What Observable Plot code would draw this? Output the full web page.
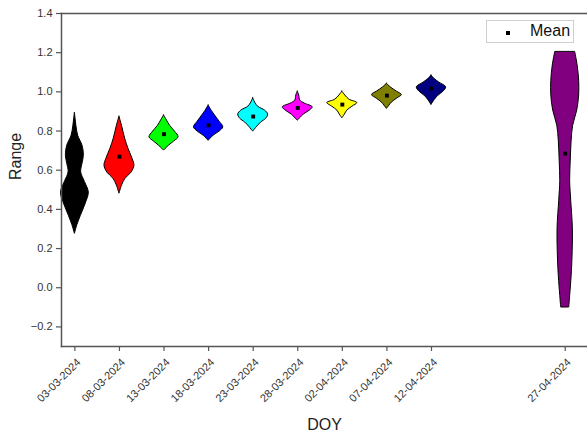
<!DOCTYPE html>
<html><head><meta charset="utf-8">
<script src="https://cdn.jsdelivr.net/npm/d3@7"></script>
<script src="https://cdn.jsdelivr.net/npm/@observablehq/plot@0.6"></script>
<style>
body{margin:0;background:#fff;}
#wrap{position:relative;width:587px;height:434px;font-family:"Liberation Sans",Arial,sans-serif;}
#legend{position:absolute;left:486px;top:20px;width:88px;height:23px;border:1px solid #cfcfcf;background:#fff;box-sizing:border-box;}
#legend .sq{position:absolute;left:19px;top:10px;width:4px;height:4px;background:#000;}
#legend .lb{position:absolute;left:43px;top:2px;font-size:16px;line-height:16px;color:#111;}
</style></head>
<body><div id="wrap"></div>
<script>
const dates = ["03-03-2024","08-03-2024","13-03-2024","18-03-2024","23-03-2024","28-03-2024","02-04-2024","07-04-2024","12-04-2024","27-04-2024"];
const dayOffsets = [0,5,10,15,20,25,30,35,40,55];
const means = [0.58,0.669,0.784,0.829,0.874,0.918,0.935,0.981,1.017,0.685];
const colors = ["#000000","#ff0000","#00ff00","#0000ff","#00ffff","#ff00ff","#ffff00","#808000","#000080","#800080"];
const yTicks = [-0.2,0,0.2,0.4,0.6,0.8,1.0,1.2,1.4];

// violin profiles: range values and relative density
const v0303 = [0.892,0.86,0.827,0.776,0.725,0.674,0.63,0.589,0.54,0.486,0.43,0.367,0.32,0.275];
const d0303 = [0,0.05,0.1,0.22,0.51,0.6,0.5,0.42,0.67,0.93,0.73,0.4,0.17,0];
const v0803 = [0.873,0.827,0.761,0.710,0.659,0.623,0.587,0.556,0.521,0.480];
const d0803 = [0,0.17,0.38,0.6,0.87,1.0,0.8,0.4,0.17,0];
const v1303 = [0.879,0.853,0.827,0.797,0.768,0.746,0.725,0.700];
const d1303 = [0,0.2,0.4,0.73,0.97,0.67,0.33,0];
const v1803 = [0.930,0.904,0.879,0.848,0.819,0.797,0.776,0.750];
const d1803 = [0,0.2,0.43,0.73,0.98,0.73,0.33,0];
const v2303 = [0.967,0.945,0.924,0.904,0.884,0.863,0.843,0.822,0.797];
const d2303 = [0,0.13,0.33,0.8,1.0,0.87,0.53,0.27,0];
const v2803 = [1.001,0.981,0.955,0.940,0.921,0.904,0.884,0.868,0.853];
const d2803 = [0,0.1,0.17,0.47,1.0,0.8,0.4,0.2,0];
const v0204 = [1.001,0.981,0.960,0.943,0.924,0.904,0.884,0.865];
const d0204 = [0,0.2,0.47,1.0,0.67,0.33,0.17,0];
const v0704 = [1.041,1.022,1.001,0.984,0.965,0.945,0.930,0.913];
const d0704 = [0,0.27,0.67,1.0,0.67,0.33,0.17,0];
const v1204 = [1.083,1.068,1.047,1.023,1.001,0.981,0.960,0.933];
const d1204 = [0,0.17,0.53,0.98,0.8,0.47,0.23,0];
const v2704 = [1.202,1.134,1.057,0.981,0.904,0.827,0.751,0.649,0.546,0.444,0.306,0.188,0.061,-0.042,-0.101];
const d2704 = [0.67,0.83,0.93,0.93,0.8,0.53,0.43,0.37,0.33,0.4,0.51,0.5,0.43,0.33,0.27];

const rangeValues = [v0303,v0803,v1303,v1803,v2303,v2803,v0204,v0704,v1204,v2704];
const densities = [d0303,d0803,d1303,d1803,d2303,d2803,d0204,d0704,d1204,d2704];
const maxHalf = 1.68; // days

const rows = [];
dates.forEach((d,i)=>{
  rangeValues[i].forEach((y,j)=>{
    const w = densities[i][j]*maxHalf;
    rows.push({date:d, y, x1:dayOffsets[i]-w, x2:dayOffsets[i]+w});
  });
});
const meanRows = dates.map((d,i)=>({date:d, day:dayOffsets[i], mean:means[i]}));

const axisColor = "#555";
const chart = Plot.plot({
  width:587, height:434,
  marginLeft:61, marginRight:0, marginTop:13, marginBottom:88,
  x:{domain:[-1.5,57.5]},
  y:{domain:[-0.3,1.4]},
  color:{domain:dates, range:colors},
  style:{fontFamily:"'Liberation Sans', Arial, sans-serif", fontSize:"11px", color:"#333", background:"white"},
  marks:[
    Plot.areaX(rows,{y:"y",x1:"x1",x2:"x2",z:"date",fill:"date",stroke:"black",strokeWidth:1,curve:"catmull-rom"}),
    Plot.dot(meanRows,{x:"day",y:"mean",symbol:"square",r:2.2,fill:"black"}),
    Plot.axisY({ticks:yTicks, tickFormat:d=>d.toFixed(1).replace("-","\u2212"), tickSize:5, tickPadding:4, label:null, stroke:axisColor, strokeWidth:1.2}),
    Plot.axisX({ticks:dayOffsets, tickFormat:()=>"", tickSize:5, label:null, stroke:axisColor, strokeWidth:1.2}),
    Plot.axisX({ticks:dayOffsets, tickFormat:d=>dates[dayOffsets.indexOf(d)], tickRotate:-45, tickSize:0, tickPadding:8, dx:4, dy:6, label:null}),
    Plot.frame({anchor:"left", stroke:axisColor, strokeWidth:1.5}),
    Plot.frame({anchor:"top", stroke:axisColor, strokeWidth:1.5}),
    Plot.frame({anchor:"bottom", stroke:axisColor, strokeWidth:1.5}),
    Plot.text(["Range"],{text:d=>d, frameAnchor:"left", dx:-46, rotate:-90, fontSize:16, fill:"#222"}),
    Plot.text(["DOY"],{text:d=>d, frameAnchor:"bottom", dy:83, fontSize:16, fill:"#222"})
  ]
});
const wrap = document.getElementById("wrap");
wrap.appendChild(chart);
const lg = document.createElement("div");
lg.id = "legend";
lg.innerHTML = '<div class="sq"></div><div class="lb">Mean</div>';
wrap.appendChild(lg);
</script>
</body></html>
